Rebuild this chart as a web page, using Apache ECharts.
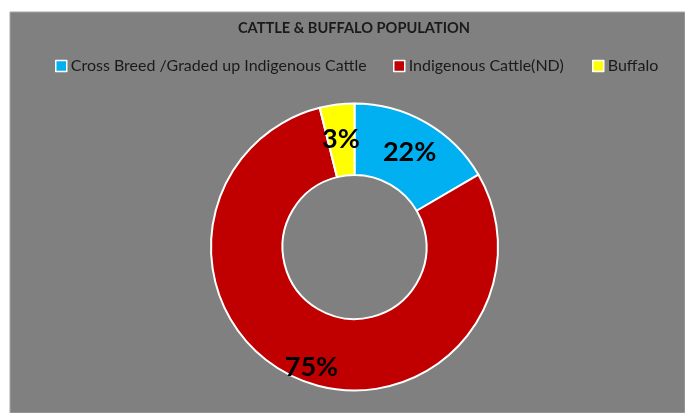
<!DOCTYPE html>
<html>
<head>
<meta charset="utf-8">
<script src="https://cdn.jsdelivr.net/npm/echarts@6/dist/echarts.min.js"></script>
<style>
html,body{margin:0;padding:0;background:#fff;}
#c{width:685px;height:413px;}
</style>
</head>
<body>
<div id="c"></div>
<script>
const categories = ['Cross Breed /Graded up Indigenous Cattle', 'Indigenous Cattle(ND)', 'Buffalo'];
// slice sizes as drawn in the picture (share of the ring)
const values = [16.6, 79.5, 3.9];
// data labels as printed on the chart
const labelTexts = ['22%', '75%', '3%'];
const colors = ['#00B0F0', '#C00000', '#FFFF00'];
const titleText = 'CATTLE & BUFFALO POPULATION';

const labelShift = [[0, 1], [0, 18.5], [0, 2]];
const legendLeft = [55, 393, 592];

const chart = echarts.init(document.getElementById('c'));
chart.setOption({
  backgroundColor: '#ffffff',
  animation: false,
  graphic: [{
    type: 'rect', z: -10, silent: true,
    shape: {x: 10, y: 12, width: 675, height: 401},
    style: {fill: '#808080', stroke: '#a6a6a6', lineWidth: 1}
  }],
  title: {
    text: titleText, left: 354, top: 21, textAlign: 'center', padding: 0,
    textStyle: {fontFamily: 'Lato', fontWeight: 'bold', fontSize: 14.6, color: '#1a1a1a'}
  },
  legend: categories.map((n, i) => ({
    data: [n], top: 58, left: legendLeft[i], padding: 0,
    icon: 'rect', itemWidth: 11, itemHeight: 11, itemGap: 4,
    itemStyle: {borderColor: '#ffffff', borderWidth: 1.5},
    textStyle: {fontFamily: 'Lato', fontSize: 16, color: '#1a1a1a', padding: [0, 0, 0, -1]}
  })),
  series: [{
    type: 'pie',
    center: [354.5, 247],
    radius: [72, 143.5],
    startAngle: 90,
    clockwise: true,
    data: categories.map((n, i) => ({name: n, value: values[i], itemStyle: {color: colors[i]}})),
    itemStyle: {borderColor: '#ffffff', borderWidth: 2},
    label: {
      show: true, position: 'inside',
      formatter: p => labelTexts[p.dataIndex],
      fontFamily: 'Lato', fontWeight: 'bold', fontSize: 27, color: '#000000'
    },
    labelLayout: p => ({dx: labelShift[p.dataIndex][0], dy: labelShift[p.dataIndex][1]}),
    emphasis: {disabled: true}
  }]
});
</script>
</body>
</html>
